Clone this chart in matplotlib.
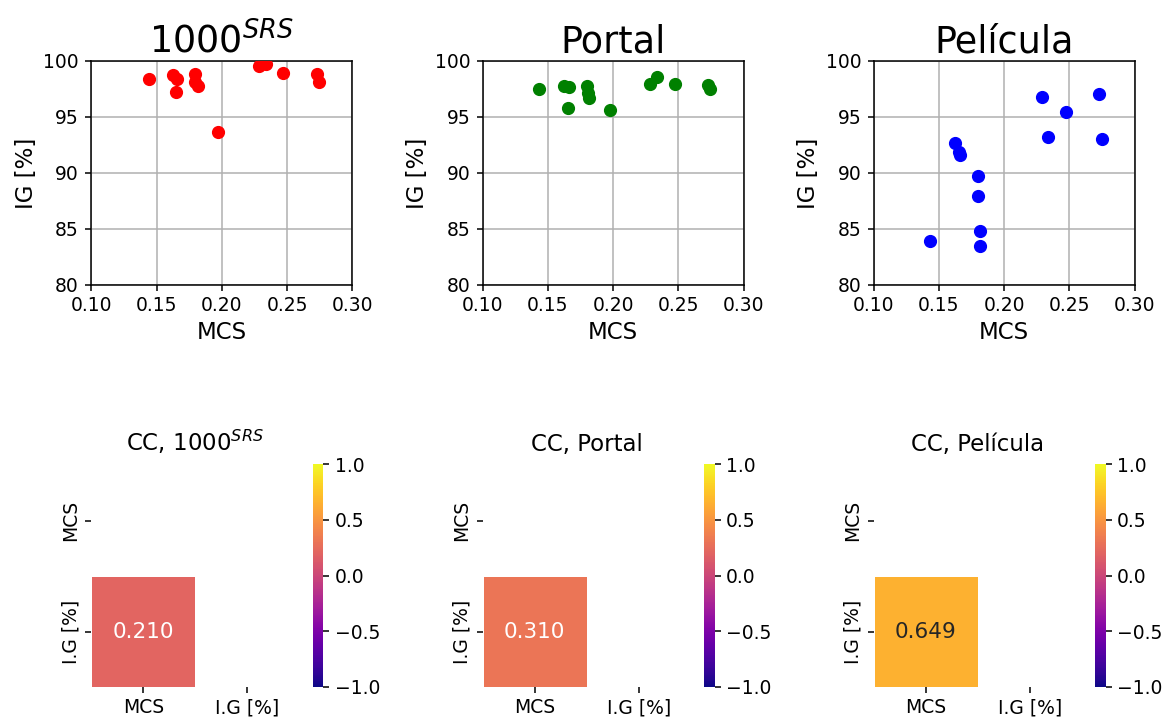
import numpy as np
import matplotlib
matplotlib.use("Agg")
import matplotlib.pyplot as plt
import seaborn as sns

titles = ["1000$^{SRS}$", "Portal", "Película"]
colors = ["red", "green", "blue"]

mcs_srs = [0.1439, 0.1626, 0.1659, 0.1651, 0.1797, 0.1797, 0.1817, 0.1973,
           0.2285, 0.2335, 0.2468, 0.2726, 0.2741]
ig_srs = [98.37, 98.78, 98.37, 97.26, 98.84, 98.15, 97.77, 93.69,
          99.55, 99.70, 98.96, 98.81, 98.15]

mcs_portal = [0.1435, 0.1625, 0.1659, 0.1651, 0.1797, 0.1805, 0.1812, 0.1974,
              0.2285, 0.2333, 0.2474, 0.2728, 0.2743]
ig_portal = [97.47, 97.77, 97.71, 95.80, 97.80, 97.10, 96.67, 95.60,
             97.97, 98.60, 97.92, 97.83, 97.50]

mcs_pelicula = [0.1433, 0.1623, 0.1650, 0.1660, 0.1802, 0.1800, 0.1815, 0.1815,
                0.2287, 0.2335, 0.2477, 0.2728, 0.2746]
ig_pelicula = [83.90, 92.65, 91.90, 91.65, 89.76, 87.97, 84.80, 83.48,
               96.76, 93.19, 95.47, 97.08, 93.06]

corr_values = [0.210, 0.310, 0.649]
corr_labels = ["MCS", "I.G [%]"]

mcs_all = [mcs_srs, mcs_portal, mcs_pelicula]
ig_all = [ig_srs, ig_portal, ig_pelicula]

W, H = 1165, 718
fig = plt.figure(figsize=(W / 100, H / 100), dpi=100)

lefts = [91.3, 482.7, 873.7]
tick_fs = 13.5
label_fs = 16.5

for i in range(3):
    l = lefts[i]
    # scatter panel
    ax = fig.add_axes([l / W, 1 - 285 / H, 261 / W, 224 / H])
    ax.scatter(mcs_all[i], ig_all[i], color=colors[i], s=72, zorder=3)
    ax.set_xlim(0.10, 0.30)
    ax.set_ylim(80, 100)
    ax.set_xticks([0.10, 0.15, 0.20, 0.25, 0.30])
    ax.set_yticks([80, 85, 90, 95, 100])
    ax.grid(True, color="#b0b0b0", linewidth=1.1)
    ax.set_axisbelow(True)
    ax.tick_params(labelsize=tick_fs, width=1.1, length=4)
    ax.tick_params(axis="y", pad=5)
    ax.tick_params(axis="x", pad=4)
    for sp in ax.spines.values():
        sp.set_linewidth(1.1)
    ax.set_xlabel("MCS", fontsize=label_fs)
    ax.set_ylabel("IG [%]", fontsize=label_fs)
    ax.set_title(titles[i], fontsize=26.3)

    # correlation heatmap
    r = corr_values[i]
    mat = np.array([[1.0, r], [r, 1.0]])
    mask = np.triu(np.ones_like(mat, dtype=bool))
    hax = fig.add_axes([l / W, 1 - 687 / H, 208 / W, 222 / H])
    cax = fig.add_axes([(l + 221.5) / W, 1 - 686.7 / H, 10.6 / W, 222.4 / H])
    sns.heatmap(mat, mask=mask, cmap="plasma", vmin=-1, vmax=1, annot=True,
                fmt=".3f", annot_kws={"fontsize": 15.5}, linewidths=0.5,
                xticklabels=corr_labels, yticklabels=corr_labels,
                ax=hax, cbar_ax=cax)
    hax.tick_params(labelsize=tick_fs, width=1.1, length=4.5)
    plt.setp(hax.get_yticklabels(), rotation=90, va="center")
    plt.setp(hax.get_xticklabels(), rotation=0)
    cax.tick_params(labelsize=tick_fs, width=1.1, length=4.5)
    cax.set_yticks([-1.0, -0.5, 0.0, 0.5, 1.0])
    hax.set_title("CC, " + titles[i], fontsize=label_fs, pad=10)

fig.savefig("out.png", dpi=100)
